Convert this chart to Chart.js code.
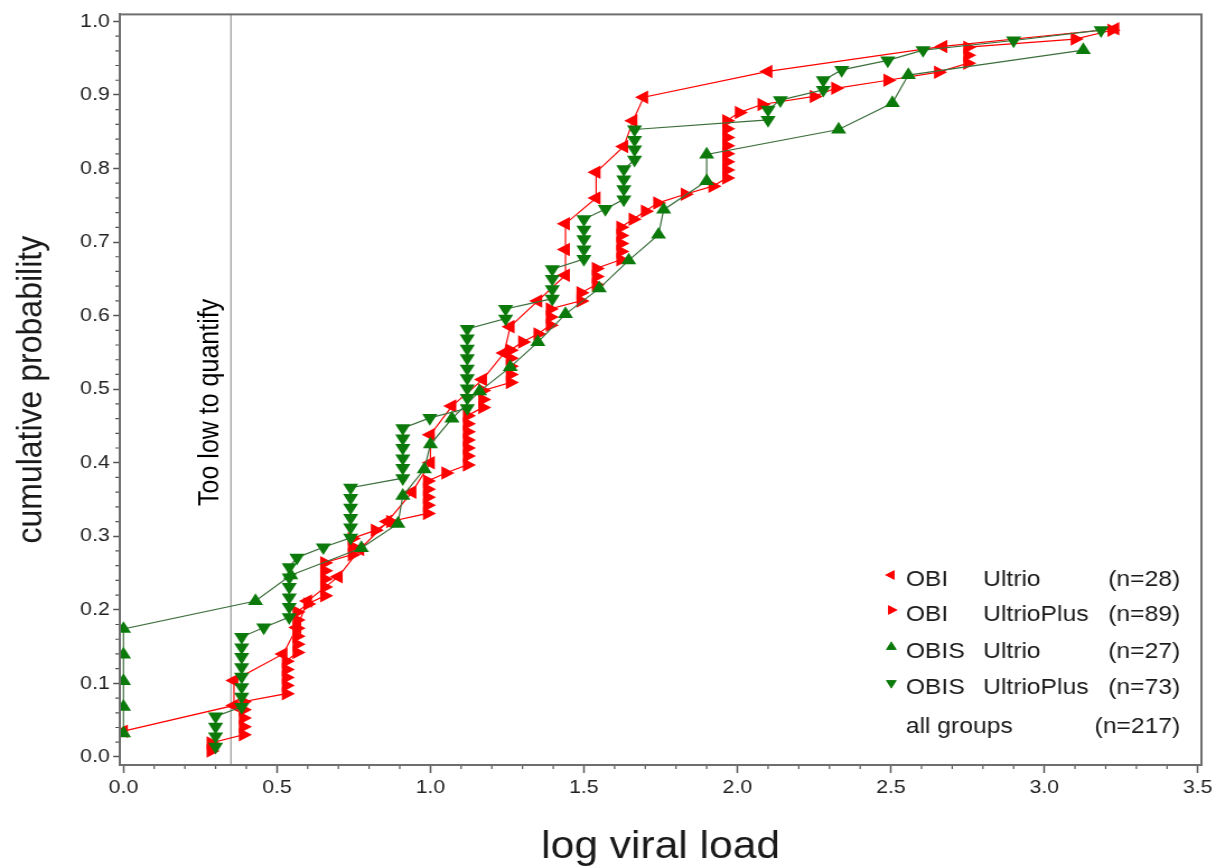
<!DOCTYPE html>
<html>
<head>
<meta charset="utf-8">
<script src="https://cdn.jsdelivr.net/npm/chart.js@4.4.0/dist/chart.umd.min.js"></script>
<style>
  html, body { margin: 0; padding: 0; background: #fff; overflow: hidden; }
  /* the original figure is a bit wider than tall in its glyphs: stretch horizontally */
  #wrap { width: 1086px; height: 867px; transform: scaleX(1.1197); transform-origin: 0 0; }
</style>
</head>
<body>
<div id="wrap"><canvas id="myChart" width="1086" height="867"></canvas></div>
<script>
// OBI Ultrio (n=28)
let obiUltrioX = [0, 0.36, 0.36, 0.52, 0.565, 0.6, 0.7, 0.77, 0.86, 0.94, 1.0, 1.0, 1.07, 1.17,
  1.24, 1.26, 1.35, 1.44, 1.44, 1.44, 1.54, 1.54, 1.63, 1.66, 1.695, 2.1, 2.67, 3.23];
let obiUltrioY = [0.035, 0.07, 0.104, 0.14, 0.176, 0.212, 0.245, 0.282, 0.32, 0.36, 0.4, 0.438,
  0.477, 0.513, 0.549, 0.585, 0.62, 0.655, 0.69, 0.725, 0.76, 0.795, 0.83, 0.865, 0.897, 0.932, 0.966, 0.99];

// OBI UltrioPlus (n=89)
let obiPlusX = [0.285, 0.285, 0.39, 0.39, 0.39, 0.39, 0.39, 0.53, 0.53, 0.53, 0.53, 0.53,
  0.565, 0.565, 0.565, 0.565, 0.565, 0.565, 0.6, 0.655, 0.655, 0.655, 0.655, 0.655,
  0.745, 0.745, 0.745, 0.82, 0.87, 0.99, 0.99, 0.99, 0.99, 0.99, 1.05,
  1.12, 1.12, 1.12, 1.12, 1.12, 1.12, 1.12, 1.17, 1.17, 1.17,
  1.26, 1.26, 1.26, 1.26, 1.26, 1.3, 1.35, 1.39, 1.39, 1.39, 1.49, 1.49, 1.54, 1.54, 1.54,
  1.62, 1.62, 1.62, 1.62, 1.62, 1.66, 1.7, 1.74, 1.83, 1.92,
  1.965, 1.965, 1.965, 1.965, 1.965, 1.965, 1.965, 1.965,
  2.006, 2.08, 2.25, 2.32, 2.49, 2.655, 2.75, 2.75, 2.75, 3.1, 3.22];
let obiPlusY = [0.008, 0.019, 0.03, 0.041, 0.053, 0.064, 0.075, 0.086, 0.097, 0.108, 0.119, 0.13,
  0.142, 0.153, 0.164, 0.175, 0.186, 0.197, 0.208, 0.219, 0.231, 0.242, 0.253, 0.264,
  0.275, 0.286, 0.297, 0.308, 0.32, 0.331, 0.342, 0.353, 0.364, 0.375, 0.386,
  0.397, 0.409, 0.42, 0.431, 0.442, 0.453, 0.464, 0.475, 0.486, 0.498,
  0.509, 0.52, 0.531, 0.542, 0.553, 0.564, 0.575, 0.587, 0.598, 0.609, 0.62, 0.631, 0.642, 0.653, 0.664,
  0.676, 0.687, 0.698, 0.709, 0.72, 0.731, 0.742, 0.753, 0.765, 0.776,
  0.787, 0.798, 0.809, 0.82, 0.831, 0.842, 0.854, 0.865,
  0.876, 0.887, 0.898, 0.909, 0.92, 0.931, 0.943, 0.954, 0.965, 0.976, 0.988];

// OBIS Ultrio (n=27)
let obisUltrioX = [0, 0, 0, 0, 0, 0.43, 0.545, 0.775, 0.894, 0.91, 0.98, 1.0, 1.07, 1.16,
  1.26, 1.35, 1.44, 1.55, 1.646, 1.743, 1.76, 1.9, 1.9, 2.33, 2.505, 2.557, 3.127];
let obisUltrioY = [0.032, 0.068, 0.103, 0.139, 0.174, 0.212, 0.247, 0.284, 0.317, 0.355, 0.391,
  0.425, 0.46, 0.497, 0.53, 0.564, 0.602, 0.637, 0.675, 0.71, 0.744, 0.783, 0.819, 0.853, 0.889, 0.927, 0.961];

// OBIS UltrioPlus (n=73)
let obisPlusX = [0.3, 0.3, 0.3, 0.3, 0.385, 0.385, 0.385, 0.385, 0.385, 0.385, 0.385, 0.385,
  0.457, 0.54, 0.54, 0.54, 0.54, 0.54, 0.54, 0.565, 0.651,
  0.74, 0.74, 0.74, 0.74, 0.74, 0.74, 0.91, 0.91, 0.91, 0.91, 0.91, 0.91, 0.998,
  1.12, 1.12, 1.12, 1.12, 1.12, 1.12, 1.12, 1.12, 1.12, 1.245, 1.245,
  1.397, 1.397, 1.397, 1.397, 1.5, 1.5, 1.5, 1.5, 1.5, 1.57, 1.63, 1.63, 1.63, 1.63,
  1.665, 1.665, 1.665, 1.665, 2.1, 2.1, 2.14, 2.28, 2.28, 2.34, 2.49, 2.605, 2.9, 3.185];
let obisPlusY = [0.014, 0.028, 0.041, 0.055, 0.068, 0.082, 0.095, 0.109, 0.122, 0.136, 0.149, 0.163,
  0.176, 0.19, 0.204, 0.217, 0.231, 0.244, 0.258, 0.271, 0.285,
  0.298, 0.312, 0.325, 0.339, 0.352, 0.366, 0.379, 0.393, 0.406, 0.42, 0.433, 0.447, 0.461,
  0.474, 0.488, 0.501, 0.515, 0.528, 0.542, 0.555, 0.569, 0.582, 0.596, 0.609,
  0.623, 0.636, 0.65, 0.663, 0.677, 0.69, 0.704, 0.717, 0.731, 0.745, 0.758, 0.772, 0.785, 0.799,
  0.812, 0.826, 0.839, 0.853, 0.866, 0.88, 0.893, 0.907, 0.92, 0.934, 0.947, 0.961, 0.974, 0.988];

let groupNames = ["OBI", "OBI", "OBIS", "OBIS", ""];
let assayNames = ["Ultrio", "UltrioPlus", "Ultrio", "UltrioPlus", "all groups"];
let groupCounts = ["(n=28)", "(n=89)", "(n=27)", "(n=73)", "(n=217)"];
let lloq = 0.35;
let lloqLabel = "Too low to quantify";

const RED = "#ff0000";
const GREEN = "#0b7a0b";
const GREEN_LINE = "#3d6f3d";
const FONT = "'Liberation Sans', Arial, sans-serif";

function pts(xs, ys) {
  let out = [];
  for (let i = 0; i < xs.length; i++) out.push({ x: xs[i], y: ys[i] });
  return out;
}

function series(label, xs, ys, color, lineColor, rotation) {
  return {
    label: label,
    data: pts(xs, ys),
    showLine: true,
    borderColor: lineColor,
    borderWidth: 1.2,
    backgroundColor: color,
    pointBackgroundColor: color,
    pointBorderColor: color,
    pointBorderWidth: 0,
    pointStyle: "triangle",
    pointRotation: rotation,
    pointRadius: 7.8,
    tension: 0,
  };
}

// extras: frame, minor ticks, LLOQ line and the legend box
const extras = {
  id: "extras",
  beforeDatasetsDraw(chart) {
    const c = chart.ctx, xs = chart.scales.x, ys = chart.scales.y, a = chart.chartArea;
    c.save();
    // reference line
    const lx = xs.getPixelForValue(lloq);
    c.strokeStyle = "#8c8c8c";
    c.lineWidth = 1.1;
    c.beginPath();
    c.moveTo(lx, a.top);
    c.lineTo(lx, a.bottom);
    c.stroke();
    c.translate(lx - 18, ys.getPixelForValue(0.482));
    c.rotate(-Math.PI / 2);
    c.fillStyle = "#000";
    c.font = "25px " + FONT;
    c.textAlign = "center";
    c.textBaseline = "middle";
    c.fillText(lloqLabel, 0, 0);
    c.restore();
  },
  afterDraw(chart) {
    const c = chart.ctx, xs = chart.scales.x, ys = chart.scales.y, a = chart.chartArea;
    c.save();
    c.strokeStyle = "#555";
    c.lineWidth = 1.2;
    // minor ticks
    c.beginPath();
    for (let i = 0; i <= 35; i++) {
      if (i % 5 === 0) continue;
      const px = xs.getPixelForValue(i / 10);
      c.moveTo(px, a.bottom);
      c.lineTo(px, a.bottom + 4);
    }
    for (let i = 0; i <= 50; i++) {
      if (i % 5 === 0) continue;
      const py = ys.getPixelForValue(i / 50);
      c.moveTo(a.left, py);
      c.lineTo(a.left - 4, py);
    }
    c.stroke();
    // frame
    c.strokeStyle = "#6e6e6e";
    c.lineWidth = 2;
    c.strokeRect(a.left, a.top, a.right - a.left, a.bottom - a.top);

    // legend
    const styles = [
      { color: RED, rot: -90 },
      { color: RED, rot: 90 },
      { color: GREEN, rot: 0 },
      { color: GREEN, rot: 180 },
    ];
    const rows = [a.bottom - 185, a.bottom - 150, a.bottom - 113, a.bottom - 77, a.bottom - 38];
    c.font = "22px " + FONT;
    c.textBaseline = "middle";
    for (let i = 0; i < assayNames.length; i++) {
      const y = rows[i];
      if (i < styles.length) {
        c.fillStyle = styles[i].color;
        Chart.helpers.drawPoint(c, { pointStyle: "triangle", rotation: styles[i].rot, radius: 5.5, borderWidth: 0 }, a.right - 277, y - 5);
        c.fill();
      }
      c.fillStyle = "#1a1a1a";
      c.textAlign = "left";
      if (groupNames[i]) {
        c.fillText(groupNames[i], a.right - 264, y);
        c.fillText(assayNames[i], a.right - 195, y);
      } else {
        c.fillText(assayNames[i], a.right - 264, y);
      }
      c.textAlign = "right";
      c.fillText(groupCounts[i], a.right - 19, y);
    }
    c.restore();
  },
};

let ctx = document.getElementById("myChart").getContext("2d");
let chart = new Chart(ctx, {
  type: "scatter",
  data: {
    datasets: [
      series("OBIS UltrioPlus", obisPlusX, obisPlusY, GREEN, GREEN_LINE, 180),
      series("OBIS Ultrio", obisUltrioX, obisUltrioY, GREEN, GREEN_LINE, 0),
      series("OBI UltrioPlus", obiPlusX, obiPlusY, RED, RED, 90),
      series("OBI Ultrio", obiUltrioX, obiUltrioY, RED, RED, -90),
    ],
  },
  options: {
    responsive: false,
    animation: false,
    devicePixelRatio: 1,
    layout: { padding: { top: 11, right: 13, left: 0, bottom: 0 } },
    plugins: { legend: { display: false }, tooltip: { enabled: false } },
    scales: {
      x: {
        type: "linear",
        min: -0.012,
        max: 3.512,
        afterFit: (s) => { s.height = 102; },
        ticks: {
          stepSize: 0.5,
          includeBounds: false,
          autoSkip: false,
          maxRotation: 0,
          padding: 3,
          color: "#222",
          font: { size: 19, family: FONT },
          callback: (v) => v.toFixed(1),
        },
        grid: { drawOnChartArea: false, tickLength: 8, tickColor: "#555", tickWidth: 1.5 },
        border: { display: true, color: "#6e6e6e", width: 2 },
        title: { display: true, text: "log viral load", color: "#1a1a1a", font: { size: 38, family: FONT, lineHeight: 1 }, padding: { top: 0, bottom: 0 } },
      },
      y: {
        type: "linear",
        min: -0.011,
        max: 1.0095,
        afterFit: (s) => { s.width = 107; },
        ticks: {
          stepSize: 0.1,
          includeBounds: false,
          autoSkip: false,
          padding: 3,
          color: "#222",
          font: { size: 19, family: FONT },
          callback: (v) => v.toFixed(1),
        },
        grid: { drawOnChartArea: false, tickLength: 6, tickColor: "#555", tickWidth: 1.5 },
        border: { display: true, color: "#6e6e6e", width: 2 },
        title: { display: true, text: "cumulative probability", color: "#1a1a1a", font: { size: 32, family: FONT, lineHeight: 1 }, padding: { top: 12, bottom: 0 } },
      },
    },
  },
  plugins: [extras],
});
</script>
</body>
</html>
